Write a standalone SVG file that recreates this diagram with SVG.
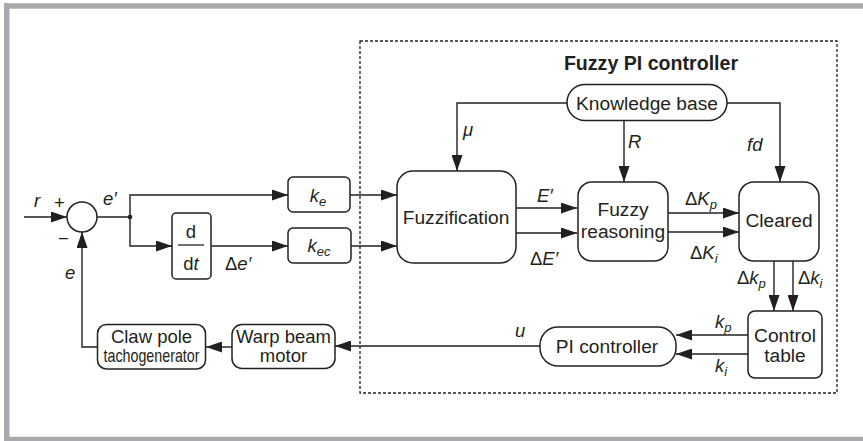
<svg xmlns="http://www.w3.org/2000/svg" width="863" height="441" viewBox="0 0 863 441">
<style>
  .box { fill: #fff; stroke: #231f20; stroke-width: 1.5; }
  .ln { fill: none; stroke: #231f20; stroke-width: 1.4; }
  .ar { marker-end: url(#arr); }
  text { font-family: "Liberation Sans", Arial, sans-serif; font-size: 18.5px; fill: #231f20; }
  .n { font-size: 19.2px; }
  .c { text-anchor: middle; }
  .i { font-style: italic; }
  .title { font-weight: bold; font-size: 19.6px; }
</style>
<defs>
  <marker id="arr" markerUnits="userSpaceOnUse" markerWidth="16" markerHeight="11" refX="16" refY="5.5" orient="auto">
    <path d="M0,0 L16,5.5 L0,11 z" fill="#231f20"/>
  </marker>
</defs>
<rect x="0" y="0" width="863" height="441" fill="#fff"/>
<g id="frame" fill="#a7a9ac">
  <rect x="4" y="3.3" width="859" height="5.4"/>
  <rect x="4" y="3.3" width="5.5" height="437.7"/>
  <rect x="4" y="436.7" width="859" height="4.3"/>
</g>
<g id="fuzzy-region">
  <rect x="360" y="41" width="477" height="352" fill="none" stroke="#231f20" stroke-width="1.3" stroke-dasharray="3 2"/>
  <text class="title c" x="651" y="70">Fuzzy PI controller</text>
</g>
<g id="connectors">
  <path class="ln ar" d="M24,217 H67"/>
  <path class="ln" d="M97,217 H130"/>
  <path class="ln ar" d="M130,217 V195 H288"/>
  <path class="ln ar" d="M130,217 V246 H172"/>
  <path class="ln ar" d="M211,246 H288"/>
  <path class="ln ar" d="M350,195 H397"/>
  <path class="ln ar" d="M351,246 H397"/>
  <path class="ln ar" d="M516,208 H577"/>
  <path class="ln ar" d="M516,233 H577"/>
  <path class="ln ar" d="M668,213 H739"/>
  <path class="ln ar" d="M668,232 H739"/>
  <path class="ln ar" d="M774,261 V311"/>
  <path class="ln ar" d="M793,261 V311"/>
  <path class="ln ar" d="M748,335 H676"/>
  <path class="ln ar" d="M748,354 H676"/>
  <path class="ln ar" d="M540,346 H335"/>
  <path class="ln ar" d="M232,347 H206"/>
  <path class="ln ar" d="M97,347 H82 V232"/>
  <path class="ln ar" d="M567,103 H457 V171"/>
  <path class="ln ar" d="M624,121 V182"/>
  <path class="ln ar" d="M727,103 H780 V182"/>
  <circle cx="130" cy="217" r="2.3" fill="#231f20"/>
</g>
<g id="labels">
  <text class="i" x="34" y="207">r</text>
  <text x="54" y="209">+</text>
  <text x="58" y="245">−</text>
  <text class="i" x="103" y="205">e′</text>
  <text class="i" x="65" y="279">e</text>
  <text x="225" y="270">Δ<tspan class="i">e′</tspan></text>
  <text class="i" x="537" y="202">E′</text>
  <text x="530" y="265">Δ<tspan class="i">E′</tspan></text>
  <text x="685" y="205">Δ<tspan class="i">K</tspan><tspan class="i" font-size="13" dy="4">p</tspan></text>
  <text x="690" y="259">Δ<tspan class="i">K</tspan><tspan class="i" font-size="13" dy="4">i</tspan></text>
  <text x="737" y="284">Δ<tspan class="i">k</tspan><tspan class="i" font-size="13" dy="4">p</tspan></text>
  <text x="798" y="284">Δ<tspan class="i">k</tspan><tspan class="i" font-size="13" dy="4">i</tspan></text>
  <text class="i" x="715" y="328">k<tspan font-size="13" dy="4">p</tspan></text>
  <text class="i" x="715" y="372">k<tspan font-size="13" dy="4">i</tspan></text>
  <text class="i" x="515" y="337">u</text>
  <text class="i" x="463" y="136">μ</text>
  <text class="i" x="628" y="148">R</text>
  <text class="i" x="747" y="151">fd</text>
</g>
<g id="sum">
  <circle cx="82" cy="217" r="15" class="box"/>
</g>
<g id="ke">
  <rect class="box" x="288" y="177" width="62" height="35" rx="5"/>
  <text class="i c" x="318" y="202">k<tspan font-size="13" dy="4">e</tspan></text>
</g>
<g id="kec">
  <rect class="box" x="288" y="228" width="63" height="35" rx="5"/>
  <text class="i c" x="319" y="252">k<tspan font-size="13" dy="4">ec</tspan></text>
</g>
<g id="ddt">
  <rect class="box" x="172" y="213" width="39" height="66" rx="4"/>
  <text class="c" x="191" y="238">d</text>
  <line x1="178" y1="245" x2="204" y2="245" stroke="#231f20" stroke-width="1.3"/>
  <text class="c" x="191" y="270">d<tspan class="i">t</tspan></text>
</g>
<g id="fuzzification">
  <rect class="box" x="397" y="171" width="119" height="92" rx="16"/>
  <text class="c n" x="456" y="224">Fuzzification</text>
</g>
<g id="reasoning">
  <rect class="box" x="578" y="182" width="90" height="79" rx="14"/>
  <text class="c n" x="623" y="216">Fuzzy</text>
  <text class="c n" x="623" y="238">reasoning</text>
</g>
<g id="cleared">
  <rect class="box" x="739" y="182" width="80" height="79" rx="15"/>
  <text class="c n" x="779" y="227">Cleared</text>
</g>
<g id="knowledge">
  <rect class="box" x="567" y="84.5" width="160" height="36" rx="18"/>
  <text class="c n" x="647" y="110">Knowledge base</text>
</g>
<g id="control-table">
  <rect class="box" x="748" y="311" width="74" height="67" rx="7"/>
  <text class="c n" x="785" y="342">Control</text>
  <text class="c n" x="785" y="362">table</text>
</g>
<g id="pi">
  <rect class="box" x="540" y="327" width="136" height="39" rx="18"/>
  <text class="c n" x="607" y="353">PI controller</text>
</g>
<g id="warp">
  <rect class="box" x="232" y="324.5" width="103" height="44" rx="10"/>
  <text class="c" x="283.5" y="342.5">Warp beam</text>
  <text class="c" x="283.5" y="361.5">motor</text>
</g>
<g id="claw">
  <rect class="box" x="97.5" y="324.5" width="108" height="44.5" rx="9"/>
  <text class="c" x="151.5" y="342.5" font-size="17.5">Claw pole</text>
  <text class="c" x="151.5" y="361.5" font-size="16.5" textLength="96" lengthAdjust="spacingAndGlyphs">tachogenerator</text>
</g>
</svg>
